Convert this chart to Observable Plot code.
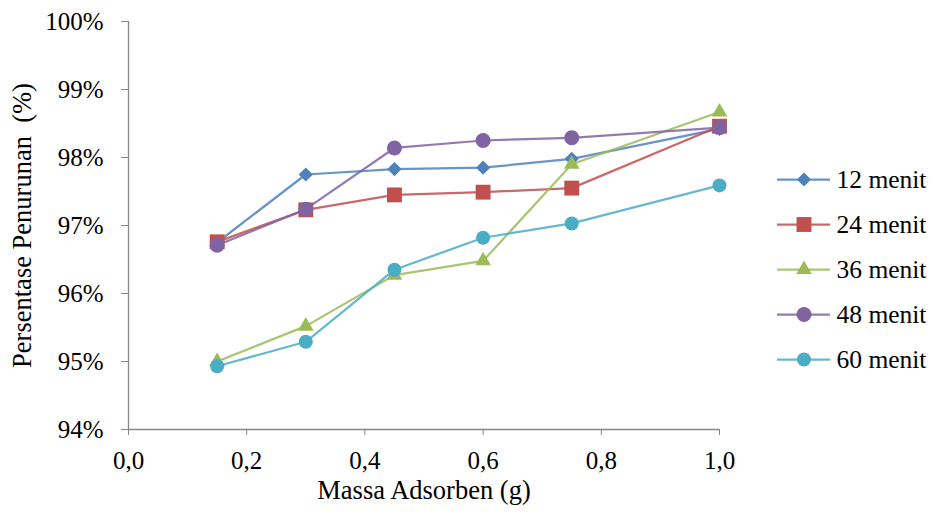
<!DOCTYPE html>
<html>
<head>
<meta charset="utf-8">
<script src="https://cdn.jsdelivr.net/npm/d3@7"></script>
<script src="https://cdn.jsdelivr.net/npm/@observablehq/plot@0.6"></script>
<style>
  html, body { margin: 0; padding: 0; background: white; }
  #wrap { position: relative; width: 933px; height: 513px; }
  #legend { position: absolute; left: 770px; top: 150px; }
  svg text { font-family: 'Liberation Serif', 'Times New Roman', serif; }
</style>
</head>
<body>
<div id="wrap"><div id="main"></div><div id="legend"></div></div>
<script>
const massa = [0.15, 0.3, 0.45, 0.6, 0.75, 1.0];
const seriesNames = ["12 menit", "24 menit", "36 menit", "48 menit", "60 menit"];
const menit12 = [96.75, 97.75, 97.83, 97.85, 97.98, 98.42];
const menit24 = [96.76, 97.23, 97.45, 97.49, 97.55, 98.46];
const menit36 = [95.00, 95.52, 96.27, 96.48, 97.90, 98.67];
const menit48 = [96.71, 97.24, 98.14, 98.25, 98.29, 98.44];
const menit60 = [94.93, 95.29, 96.35, 96.82, 97.03, 97.59];
const yTicks = [94, 95, 96, 97, 98, 99, 100];
const xTicks = [0, 0.2, 0.4, 0.6, 0.8, 1.0];
const xTitle = "Massa Adsorben (g)";
const yTitle = "Persentase Penurunan  (%)";

const allValues = [menit12, menit24, menit36, menit48, menit60];
const colors = ["#4F81BD", "#C0504D", "#9BBB59", "#8064A2", "#4BACC6"];
const symbols = ["diamond2", "square", "triangle", "circle", "circle"];
const radii = [6.4, 8.4, 5.8, 7.5, 7];

const rows = seriesNames.map((s, i) => massa.map((x, j) => ({series: s, x, y: allValues[i][j]})));

const font = "Liberation Serif";
const axisColor = "#868686";

const seriesMarks = rows.flatMap((data, i) => [
  Plot.line(data, {x: "x", y: "y", stroke: colors[i], strokeWidth: 2.25, strokeOpacity: 0.85}),
  Plot.dot(data, {x: "x", y: "y", symbol: symbols[i], r: radii[i], fill: colors[i], stroke: "none"})
]);

const main = Plot.plot({
  width: 933, height: 513,
  marginLeft: 128, marginRight: 214, marginTop: 21, marginBottom: 84,
  style: {fontFamily: font, fontSize: "25px", background: "white", color: "black"},
  x: {domain: [0, 1]},
  y: {domain: [94, 100]},
  marks: [
    Plot.axisY(yTicks, {anchor: "left", tickSize: 7, tickPadding: 18, tickFormat: d => d + "%", stroke: axisColor, fill: "black", label: null, fontFamily: font, fontSize: 25, fontVariant: "normal"}),
    Plot.axisX(xTicks, {anchor: "bottom", tickSize: 6, tickPadding: 16, tickFormat: d => d.toFixed(1).replace(".", ","), stroke: axisColor, fill: "black", label: null, fontFamily: font, fontSize: 25, fontVariant: "normal"}),
    Plot.ruleX([0], {stroke: axisColor, strokeWidth: 1.3}),
    Plot.ruleY([94], {stroke: axisColor, strokeWidth: 1.3}),
    ...seriesMarks,
    Plot.text([yTitle], {frameAnchor: "left", textAnchor: "middle", rotate: -90, dx: -106, fontSize: 26.5, fontFamily: font, fill: "black"}),
    Plot.text([xTitle], {frameAnchor: "bottom", textAnchor: "middle", dy: 69.5, fontSize: 26.5, fontFamily: font, fill: "black"})
  ]
});
document.getElementById("main").appendChild(main);

const legendDots = seriesNames.map((s, i) =>
  Plot.dot([s], {x: 0.5, y: d => d, symbol: symbols[i], r: radii[i], fill: colors[i], stroke: "none"})
);
const legend = Plot.plot({
  width: 163, height: 240, margin: 0,
  style: {fontFamily: font, fontSize: "25.5px", background: "transparent", color: "black"},
  x: {domain: [0, 1], range: [7, 60], axis: null},
  y: {type: "point", domain: seriesNames, range: [28, 209], padding: 0, axis: null},
  color: {domain: seriesNames, range: colors},
  marks: [
    Plot.ruleY(seriesNames, {y: d => d, x1: 0, x2: 1, stroke: d => d, strokeWidth: 2.25, strokeOpacity: 0.85}),
    ...legendDots,
    Plot.text(seriesNames, {x: 1, y: d => d, text: d => d, dx: 6, textAnchor: "start", fill: "black", fontFamily: font, fontSize: 25.5})
  ]
});
document.getElementById("legend").appendChild(legend);
</script>
</body>
</html>
